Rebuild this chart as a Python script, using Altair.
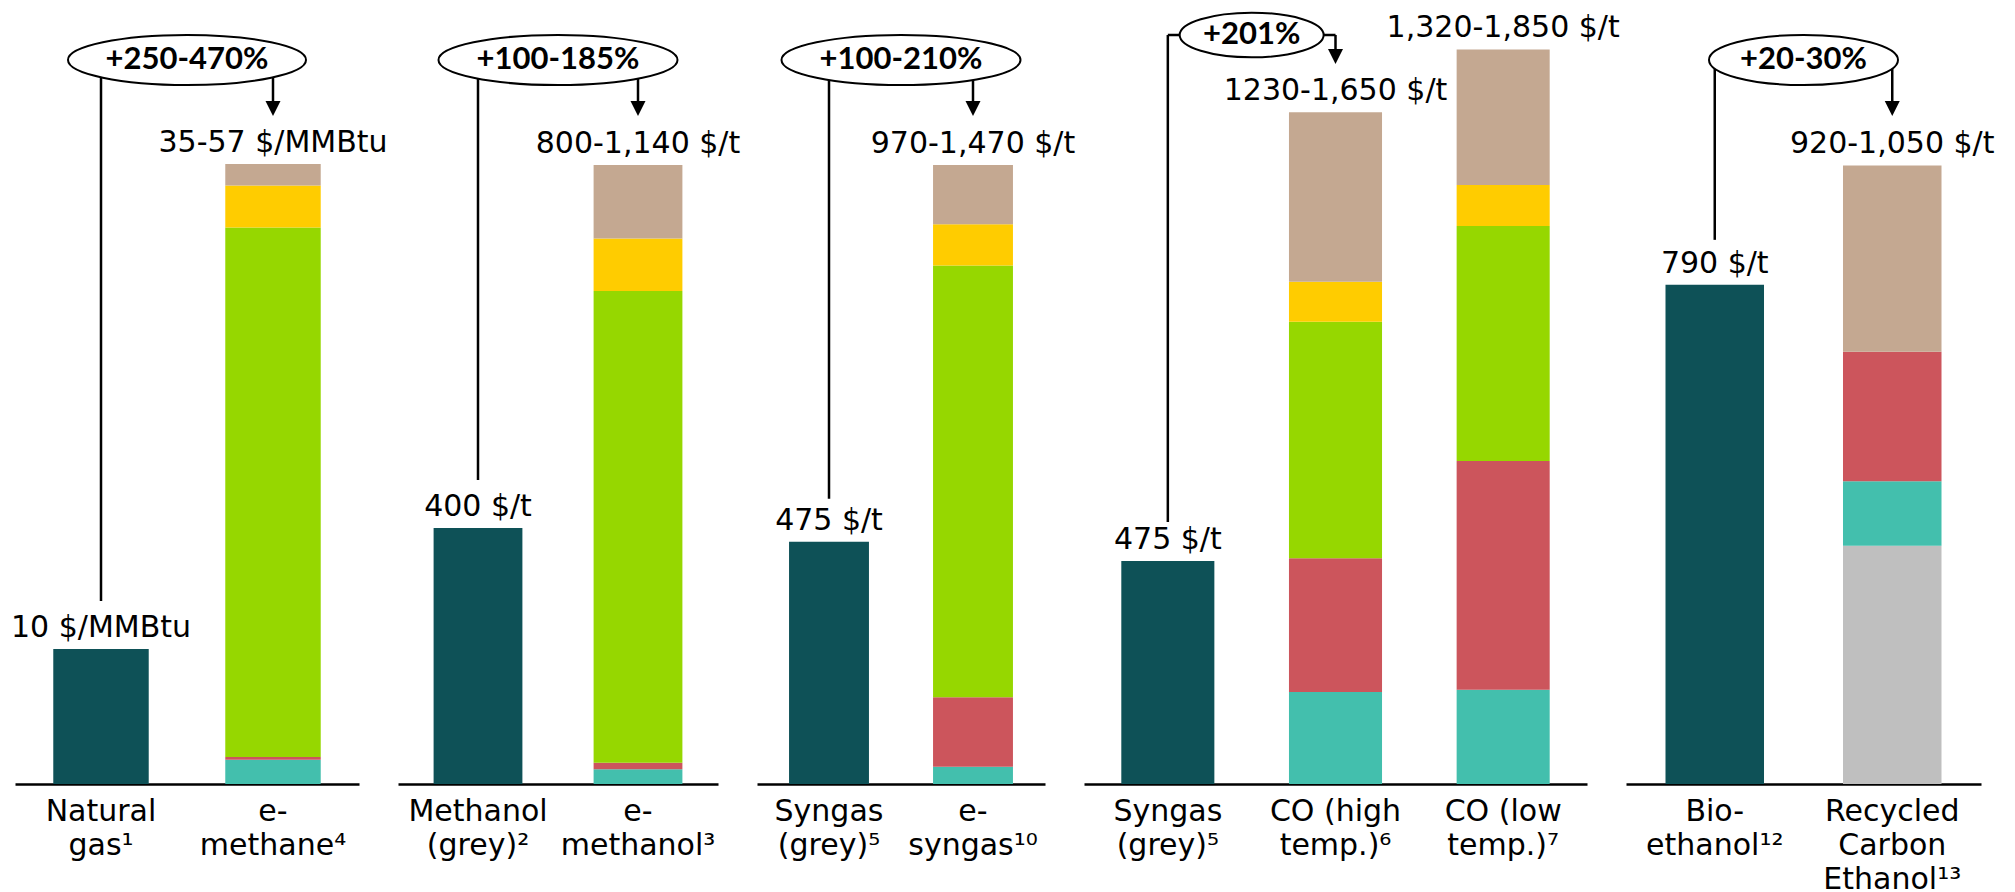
import altair as alt
import pandas as pd

# ---------------- data ----------------
bar_panel = [0, 0, 1, 1, 2, 2, 3, 3, 3, 4, 4]
bar_cat = ["Natural|gas¹", "e-|methane⁴",
           "Methanol|(grey)²", "e-|methanol³",
           "Syngas|(grey)⁵", "e-|syngas¹⁰",
           "Syngas|(grey)⁵", "CO (high|temp.)⁶", "CO (low|temp.)⁷",
           "Bio-|ethanol¹²", "Recycled|Carbon|Ethanol¹³"]
bar_label = ["10 $/MMBtu", "35-57 $/MMBtu",
             "400 $/t", "800-1,140 $/t",
             "475 $/t", "970-1,470 $/t",
             "475 $/t", "1230-1,650 $/t", "1,320-1,850 $/t",
             "790 $/t", "920-1,050 $/t"]

components = ["Conventional", "Component G", "Component A", "Component B",
              "Component C", "Component D", "Component E"]
comp_colors = ["#0E5157", "#BFBFBF", "#43BFAD", "#CC555C",
               "#96D700", "#FFCC00", "#C4A891"]

conventional = [10, 0, 400, 0, 475, 0, 475, 0, 0, 790, 0]
comp_g = [0, 0, 0, 0, 0, 0, 0, 0, 0, 0, 377]
comp_a = [0, 1.8, 0, 23, 0, 34, 0, 196, 201, 0, 102]
comp_b = [0, 0.2, 0, 10, 0, 136, 0, 285, 487, 0, 205]
comp_c = [0, 39.2, 0, 737, 0, 846, 0, 504, 501, 0, 0]
comp_d = [0, 3.1, 0, 82, 0, 81, 0, 85, 87, 0, 0]
comp_e = [0, 1.6, 0, 115, 0, 116, 0, 361, 289, 0, 295]
comp_values = [conventional, comp_g, comp_a, comp_b, comp_c, comp_d, comp_e]

pct_text = ["+250-470%", "+100-185%", "+100-210%", "+201%", "+20-30%"]
from_bar = [0, 2, 4, 6, 9]
to_bar = [1, 3, 5, 7, 10]

# ---------------- layout ----------------
PANEL_W = [344, 320, 288, 503, 355]
PLOT_H = 774
Y_MAX = [57.3, 1209, 1517, 1649, 1225]
ELL_W = [238, 239, 239, 144, 189]
ELL_R = [0.21, 0.21, 0.21, 0.31, 0.265]
ELL_Y = [50, 50, 50, 25, 50]
ARROW_TIP = [106, 106, 106, 54, 106]
LINE_GAP = [-48, -48, -43, -39, -45]
FONT = "DejaVu Sans"

rows = []
for j in range(len(bar_cat)):
    for k, vals in enumerate(comp_values):
        if vals[j] > 0:
            rows.append({"bar": j, "panel": bar_panel[j], "cat": bar_cat[j],
                         "comp": components[k], "ord": k, "value": vals[j]})
long_df = pd.DataFrame(rows)
tot = long_df.groupby("bar")["value"].sum()
top_df = pd.DataFrame({"bar": list(range(len(bar_cat))), "panel": bar_panel,
                       "cat": bar_cat, "label": bar_label,
                       "total": [tot[j] for j in range(len(bar_cat))]})


def ellipse_path(r, k=0.5523):
    return (f"M -1 0 C -1 {-k*r:.4f} {-k:.4f} {-r:.4f} 0 {-r:.4f} "
            f"C {k:.4f} {-r:.4f} 1 {-k*r:.4f} 1 0 "
            f"C 1 {k*r:.4f} {k:.4f} {r:.4f} 0 {r:.4f} "
            f"C {-k:.4f} {r:.4f} -1 {k*r:.4f} -1 0 Z")


def make_panel(i):
    idx = [j for j in range(len(bar_cat)) if bar_panel[j] == i]
    cats = [bar_cat[j] for j in idx]
    n = len(cats)
    W = PANEL_W[i]
    xs = alt.Scale(domain=cats, paddingInner=0.445, paddingOuter=0.2225)
    ys = alt.Scale(domain=[0, Y_MAX[i]], nice=False, zero=True)
    xaxis = alt.Axis(title=None, labelExpr="split(datum.label, '|')",
                     labelAngle=0, labelAlign="center", labelBaseline="top",
                     labelFont=FONT, labelFontSize=30, labelLineHeight=34,
                     labelColor="black", labelPadding=12, labelLimit=0,
                     ticks=False, tickSize=0, domainColor="black",
                     domainWidth=2.5, grid=False, labelOverlap=False)
    X = alt.X("cat:N", scale=xs, axis=xaxis)

    bdf = long_df[long_df.panel == i]
    tdf = top_df[top_df.panel == i]
    c0, c1 = bar_cat[from_bar[i]], bar_cat[to_bar[i]]
    adf = pd.DataFrame({"cat": [c0], "cat2": [c1],
                        "base": [tot[from_bar[i]]], "pct": [pct_text[i]]})
    rdf = pd.DataFrame({"cat": [c1]})
    ey = ELL_Y[i]
    off = W / (2 * n)

    bars = alt.Chart(bdf).mark_bar().encode(
        x=X,
        y=alt.Y("value:Q", stack="zero", scale=ys, axis=None),
        color=alt.Color("comp:N", scale=alt.Scale(domain=components, range=comp_colors), legend=None),
        order=alt.Order("ord:Q"),
    )
    labels = alt.Chart(tdf).mark_text(font=FONT, fontSize=30, baseline="alphabetic",
                                      dy=-12, color="black").encode(
        x=X, y=alt.Y("total:Q", scale=ys, axis=None), text="label:N")
    hline = alt.Chart(adf).mark_rule(strokeWidth=2.5, color="black").encode(
        x=X, x2="cat2:N", y=alt.value(ey))
    lline = alt.Chart(adf).mark_rule(strokeWidth=2.5, color="black",
                                     yOffset=LINE_GAP[i]).encode(
        x=X, y=alt.Y("base:Q", scale=ys, axis=None), y2=alt.value(ey))
    rline = alt.Chart(rdf).mark_rule(strokeWidth=2.5, color="black").encode(
        x=X, y=alt.value(ey), y2=alt.value(ARROW_TIP[i] - 8))
    arrow = alt.Chart(rdf).mark_point(shape="M -1 -1 L 1 -1 L 0 1 Z", size=225,
                                      filled=True, color="black", opacity=1).encode(
        x=X, y=alt.value(ARROW_TIP[i] - 7.5))
    ell = alt.Chart(adf).mark_point(shape=ellipse_path(ELL_R[i]), size=ELL_W[i] ** 2,
                                    filled=True, fill="white", stroke="black",
                                    strokeWidth=2, opacity=1, xOffset=off).encode(
        x=X, y=alt.value(ey))
    pct = alt.Chart(adf).mark_text(font="Lato", fontWeight="bold", fontSize=31,
                                   baseline="middle", color="black", xOffset=off).encode(
        x=X, y=alt.value(ey), text="pct:N")
    return alt.layer(bars, labels, hline, lline, rline, arrow, ell, pct).properties(
        width=W, height=PLOT_H)


panels = [make_panel(i) for i in range(5)]
chart = alt.hconcat(*panels, spacing=39, bounds="flush").properties(
    padding={"left": 2, "top": 0, "right": 0, "bottom": 0}
).configure_view(stroke=None)

chart.save("out.html", embed_options={"renderer": "svg", "actions": False})
